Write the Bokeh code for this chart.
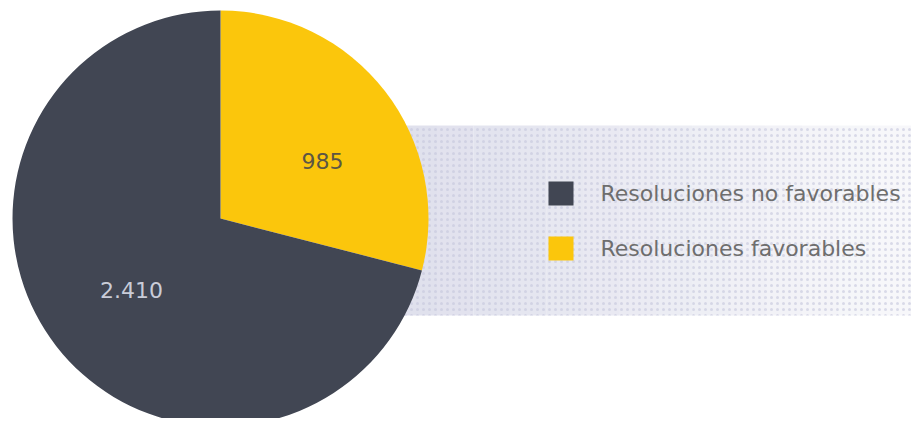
import math
from bokeh.plotting import figure
from bokeh.models import Range1d
from bokeh.core.properties import value
from bokeh.embed import file_html
from bokeh.resources import INLINE

categories = ["Resoluciones no favorables", "Resoluciones favorables"]
values = [2410, 985]
labels = ["2.410", "985"]
colors = ["#414653", "#fbc60c"]

W, H = 911, 418
p = figure(width=W, height=H, output_backend="svg", toolbar_location=None,
           x_range=Range1d(0, W), y_range=Range1d(0, H), min_border=0)
p.axis.visible = False
p.grid.visible = False
p.outline_line_color = None
p.background_fill_color = "white"

def sy(y):
    return H - y

# dotted background band behind legend (fading to the right)
n = 14
x0, x1 = 400, 911
yb, yt = sy(315), sy(125)
step = (x1 - x0) / n
lefts = [x0 + i * step for i in range(n)]
rights = [x0 + (i + 1) * step for i in range(n)]
alphas = [0.8 - 0.6 * i / (n - 1) for i in range(n)]
p.quad(left=lefts, right=rights, bottom=[yb] * n, top=[yt] * n,
       fill_color="#d8d9e8", fill_alpha=alphas, line_color=None,
       hatch_pattern="dot", hatch_color="#c4c6dc", hatch_alpha=0.6, hatch_scale=6)

# pie
cx, cy, r = 220, sy(218), 208
total = sum(values)
fav_ang = values[1] / total * 2 * math.pi
start_top = math.pi / 2
p.wedge(x=cx, y=cy, radius=r, start_angle=start_top - fav_ang, end_angle=start_top,
        fill_color=colors[1], line_color=None)
p.wedge(x=cx, y=cy, radius=r, start_angle=start_top, end_angle=start_top - fav_ang + 2 * math.pi,
        fill_color=colors[0], line_color=None)

# slice labels
p.text(x=[131], y=[sy(289)], text=[labels[0]], text_color="#c9ccd8",
       text_font=value("DejaVu Sans"), text_font_size="22px",
       text_align="center", text_baseline="middle")
p.text(x=[322], y=[sy(160)], text=[labels[1]], text_color="#5c5644",
       text_font=value("DejaVu Sans"), text_font_size="22px",
       text_align="center", text_baseline="middle")

# legend
sq_x = [560.5, 560.5]
sq_y = [sy(193), sy(248)]
p.rect(x=sq_x, y=sq_y, width=25, height=24, fill_color=colors, line_color=None)
p.text(x=[600, 600], y=sq_y, text=categories, text_color="#6e6e6e",
       text_font=value("DejaVu Sans"), text_font_size="22px",
       text_align="left", text_baseline="middle")

open("out.html", "w").write(file_html(p, INLINE))
